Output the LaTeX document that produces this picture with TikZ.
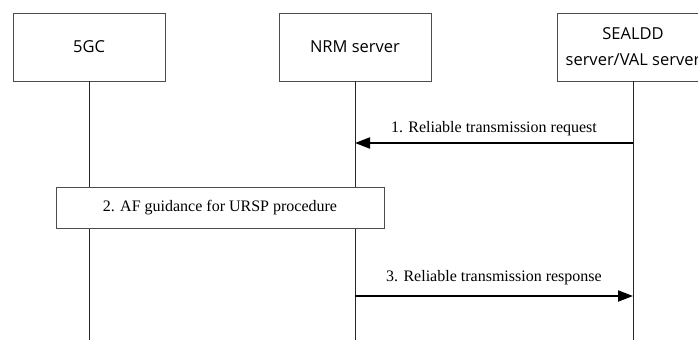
\documentclass[tikz,border=0pt]{standalone}
\usepackage{fontspec}
\setmainfont{Liberation Serif}
\setsansfont{Open Sans}
\usetikzlibrary{arrows.meta}

\begin{document}
\begin{tikzpicture}[
    x=1pt, y=-1pt,
    node distance=266pt,
    entity/.style={rectangle, draw=black!70, line width=0.9pt, align=center, minimum width=152pt, minimum height=68pt, inner sep=0pt, font=\sffamily\fontsize{16.5}{26}\selectfont},
    procbox/.style={rectangle, draw=black!70, line width=0.9pt, align=center, minimum width=328pt, minimum height=41pt, inner sep=0pt, fill=white, font=\fontsize{16}{19}\selectfont},
    lifeline/.style={line width=0.9pt, black!85},
    msg/.style={line width=2pt, -{Triangle[length=15pt, width=11pt]}},
    msglabel/.style={anchor=base, font=\fontsize{16}{19}\selectfont}
]
    \useasboundingbox (0,0) rectangle (698,340);
    \clip (0,0) rectangle (698,340);

    % Entities
    \node (fivegc) [entity] at (89,47) {5GC};
    \node (nrm) [entity, right of=fivegc] {NRM server};
    \node (sealdd) [entity, right of=nrm, xshift=12pt] {SEALDD\\server/VAL server};

    % Lifelines
    \coordinate (fivegc-end) at (fivegc.south |- 0,340);
    \coordinate (nrm-end) at (nrm.south |- 0,340);
    \coordinate (sealdd-end) at (sealdd.south |- 0,340);
    \draw [lifeline] (fivegc.south) -- (fivegc-end);
    \draw [lifeline] (nrm.south) -- (nrm-end);
    \draw [lifeline] (sealdd.south) -- (sealdd-end);

    % Message points on the lifelines
    \coordinate (req-from) at (sealdd.south |- 0,143);
    \coordinate (req-to) at (nrm.south |- 0,143);
    \coordinate (resp-from) at (nrm.south |- 0,296);
    \coordinate (resp-to) at (sealdd.south |- 0,296);

    % Step 1
    \draw [msg] (req-from) -- node[msglabel, yshift=11pt] {1. Reliable transmission request} (req-to);

    % Step 2
    \node (ursp) [procbox] at (220,207.5) {2. AF guidance for URSP procedure};

    % Step 3
    \draw [msg] (resp-from) -- node[msglabel, yshift=15pt] {3. Reliable transmission response} (resp-to);

\end{tikzpicture}
\end{document}
